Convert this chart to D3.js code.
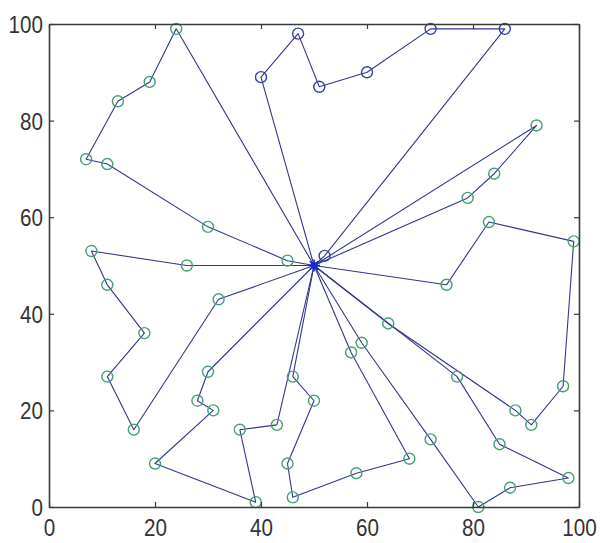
<!DOCTYPE html>
<html>
<head>
<meta charset="utf-8">
<script src="https://cdn.jsdelivr.net/npm/d3@7"></script>
<style>
    body { margin: 0; background: #fff; }
    .axis text { font-family: "Liberation Sans", Arial, sans-serif; font-size: 24px; fill: #333; }
</style>
</head>
<body>
<div id="chart"></div>
<script>
// depot and the vehicle routes (each starts and ends at the depot)
const depot = [50, 50];

const routes = [
    [[24, 99], [19, 88], [13, 84], [7, 72], [11, 71], [30, 58], [45, 51]],
    [[26, 50], [8, 53], [11, 46], [18, 36], [11, 27], [16, 16], [32, 43]],
    [[30, 28], [28, 22], [31, 20], [20, 9], [39, 1], [36, 16], [43, 17]],
    [[46, 27], [50, 22], [45, 9], [46, 2], [58, 7], [68, 10], [57, 32]],
    [[59, 34], [72, 14], [81, 0], [87, 4], [98, 6], [85, 13], [77, 27]],
    [[64, 38], [88, 20], [91, 17], [97, 25], [99, 55], [83, 59], [75, 46]],
    [[92, 79], [84, 69], [79, 64]],
    [[40, 89], [47, 98], [51, 87], [60, 90], [72, 99], [86, 99], [52, 52]]
];

// routes whose customers were drawn with blue markers
const blueRoutes = [7];

const xTicks = [0, 20, 40, 60, 80, 100];
const yTicks = [0, 20, 40, 60, 80, 100];

const width = 600;
const height = 543;
const margin = { top: 24, right: 21, bottom: 36, left: 49 };
const plotWidth = width - margin.left - margin.right;
const plotHeight = height - margin.top - margin.bottom;

const lineColor = '#33368a';
const greenMarker = '#45a070';
const blueMarker = '#3443a6';
const axisColor = '#3a3a3a';
const narrow = 0.86; // the labels are drawn in a condensed face

let svg = d3.select('#chart')
    .append('svg')
    .attr('width', width)
    .attr('height', height);

let plot = svg.append('g')
    .attr('transform', `translate(${margin.left},${margin.top})`);

let x = d3.scaleLinear().domain([0, 100]).range([0, plotWidth]);
let y = d3.scaleLinear().domain([0, 100]).range([plotHeight, 0]);

let line = d3.line()
    .x(d => x(d[0]))
    .y(d => y(d[1]));

// route lines
plot.append('g')
    .selectAll('path')
    .data(routes)
    .enter()
    .append('path')
    .attr('d', r => line([depot].concat(r, [depot])))
    .attr('fill', 'none')
    .attr('stroke', lineColor)
    .attr('stroke-width', 1.1)
    .attr('stroke-linejoin', 'round');

// customer markers
let customers = [];
routes.forEach((r, i) => r.forEach(p => customers.push({ p: p, blue: blueRoutes.includes(i) })));

plot.append('g')
    .selectAll('circle')
    .data(customers)
    .enter()
    .append('circle')
    .attr('cx', d => x(d.p[0]))
    .attr('cy', d => y(d.p[1]))
    .attr('r', 5.5)
    .attr('fill', 'none')
    .attr('stroke', d => d.blue ? blueMarker : greenMarker)
    .attr('stroke-width', 1.4);

// depot marker
let depotGroup = plot.append('g')
    .attr('transform', `translate(${x(depot[0])},${y(depot[1])})`);
depotGroup.append('circle')
    .attr('r', 3.5)
    .attr('fill', '#1a2ad0');
depotGroup.selectAll('line')
    .data([0, 45, 90, 135])
    .enter()
    .append('line')
    .attr('x1', a => -6 * Math.cos(a * Math.PI / 180))
    .attr('y1', a => -6 * Math.sin(a * Math.PI / 180))
    .attr('x2', a => 6 * Math.cos(a * Math.PI / 180))
    .attr('y2', a => 6 * Math.sin(a * Math.PI / 180))
    .attr('stroke', '#1a2ad0')
    .attr('stroke-width', 1.6);

// axes with inward ticks on all four sides (box)
let xAxis = d3.axisBottom(x).tickValues(xTicks).tickSizeInner(-5).tickSizeOuter(0).tickPadding(12);
let yAxis = d3.axisLeft(y).tickValues(yTicks).tickSizeInner(-5).tickSizeOuter(0).tickPadding(6);

let gx = plot.append('g')
    .classed('axis', true)
    .attr('transform', `translate(0,${plotHeight})`)
    .call(xAxis);
let gy = plot.append('g')
    .classed('axis', true)
    .call(yAxis);
let gxTop = plot.append('g')
    .classed('axis', true)
    .call(d3.axisTop(x).tickValues(xTicks).tickSizeInner(-5).tickSizeOuter(0).tickFormat(''));
let gyRight = plot.append('g')
    .classed('axis', true)
    .attr('transform', `translate(${plotWidth},0)`)
    .call(d3.axisRight(y).tickValues(yTicks).tickSizeInner(-5).tickSizeOuter(0).tickFormat(''));

plot.selectAll('.axis .domain')
    .attr('stroke', axisColor)
    .attr('stroke-width', 1.6);
plot.selectAll('.axis .tick line')
    .attr('stroke', axisColor)
    .attr('stroke-width', 1.2);
gx.selectAll('text')
    .attr('dy', '0.71em')
    .attr('transform', `scale(${narrow},1)`);
gy.selectAll('text')
    .attr('dy', '0.35em')
    .attr('x', -6 / narrow)
    .attr('transform', `scale(${narrow},1)`);
</script>
</body>
</html>
